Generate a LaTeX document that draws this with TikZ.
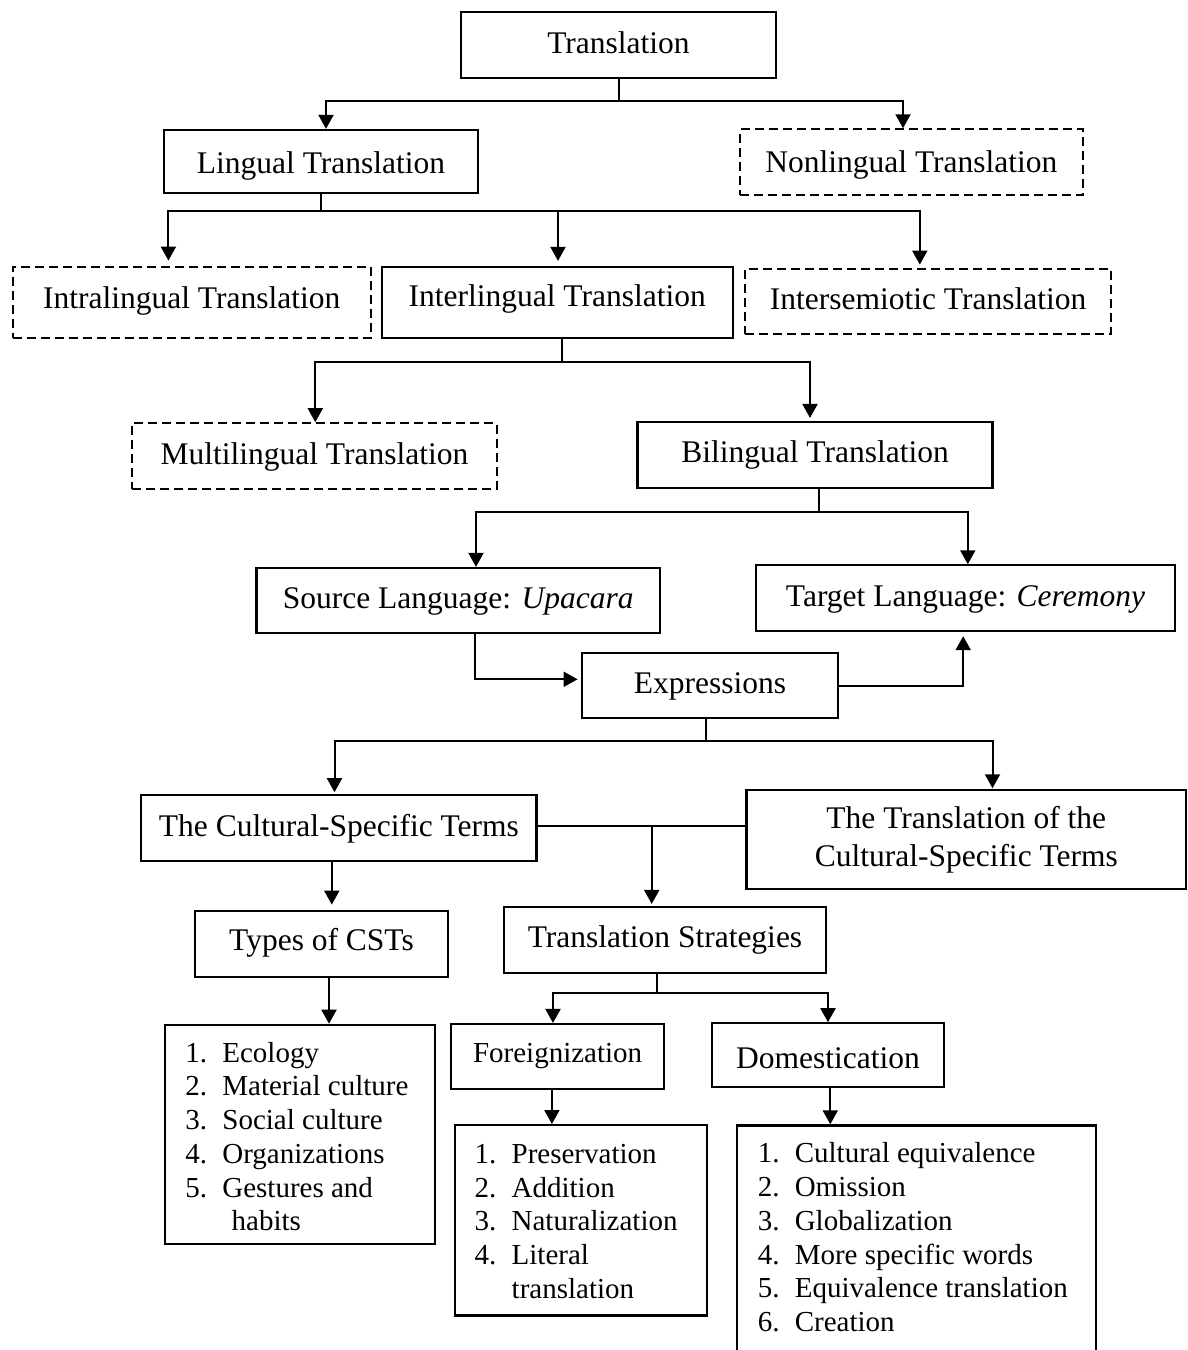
\documentclass[tikz,border=0pt]{standalone}
\usepackage{fontspec}
\setmainfont{Liberation Serif}
\usetikzlibrary{arrows.meta}
\tikzset{
  frame/.style={draw, line width=2.2pt, inner sep=0pt, font=\fontsize{31.5}{37.3}\selectfont},
  box/.style={frame, text height=22pt, text depth=6pt},
  dbox/.style={box, dash pattern=on 9pt off 5pt},
  tb/.style 2 args={text height=#1pt, text depth=#2pt},
  sz/.style 2 args={minimum width=#1pt, minimum height=#2pt},
  conn/.style={line width=2pt},
  arr/.style={conn, -{Triangle[length=14pt,width=15pt]}},
  listbox/.style={draw, line width=2.2pt, anchor=north west, inner sep=0pt},
  listtext/.style={anchor=north west, inner sep=0pt, align=left, font=\fontsize{29}{33.7}\selectfont},
}
\newcommand{\itm}[1]{\makebox[37pt][l]{#1}}
\begin{document}
\begin{tikzpicture}[x=1pt,y=-1pt]
\useasboundingbox (0,0) rectangle (1187,1350);

% boxes
\node[box, sz={315}{65.4}] (tr) at (618.5,45) {Translation};
\node[box, sz={314}{62.7}, tb={26}{2}] (lin) at (321,161.3) {Lingual Translation\hspace{12pt}};
\node[dbox, sz={343}{65.7}, tb={24.5}{3.5}] (non) at (911.4,162.2) {Nonlingual Translation\hspace{6pt}};
\node[dbox, sz={358}{71.6}, tb={19.8}{8.2}] (intra) at (191.7,302.5) {Intralingual Translation};
\node[box, sz={351}{71.6}, tb={18.2}{9.8}] (inter) at (557.2,302.5) {Interlingual Translation\hspace{10pt}};
\node[dbox, sz={366}{65}] (sem) at (928,301.8) {Intersemiotic Translation};
\node[dbox, sz={364.7}{66}] (multi) at (314.4,456.3) {Multilingual Translation};
\node[box, sz={355}{65.7}] (bi) at (815,454.9) {Bilingual Translation};
\node[box, sz={403.6}{65}] (src) at (458.2,600.5) {Source Language: \textit{Upacara}\hspace{10pt}};
\node[box, sz={419.7}{65.7}] (tgt) at (965.5,598.2) {Target Language: \textit{Ceremony}\hspace{14pt}};
\node[box, sz={256.6}{65.6}] (expr) at (710,685.5) {Expressions};
\node[box, sz={395.3}{65.4}] (cst) at (338.9,828) {The Cultural-Specific Terms};
\node[frame, sz={439.5}{98.7}, align=center] (tcst) at (966.3,839.7) {The Translation of the\\Cultural-Specific Terms};
\node[box, sz={252.5}{66}, tb={21}{7}] (types) at (321.5,943.7) {Types of CSTs};
\node[box, sz={322}{66}, tb={21.3}{6.7}] (ts) at (665,940) {Translation Strategies};
\node[box, sz={213.5}{65.3}, tb={20}{8}, font=\fontsize{29}{33.7}\selectfont] (fore) at (557.6,1056.7) {Foreignization};
\node[box, sz={232.2}{64}, tb={27}{1}] (dom) at (828,1055.3) {Domestication};

% list boxes
\node[listbox, sz={269.4}{219.3}] (tlist) at (164.2,1023.7) {};
\node[listtext] (tlistt) at (185.2,1038.4) {\strut\itm{1.}Ecology\\
\itm{2.}Material culture\\
\itm{3.}Social culture\\
\itm{4.}Organizations\\
\itm{5.}Gestures and\\
\hspace*{46.3pt}habits};

\node[listbox, sz={252.3}{190.3}] (flist) at (453.5,1124) {};
\node[listtext] (flistt) at (474.5,1139.7) {\strut\itm{1.}Preservation\\
\itm{2.}Addition\\
\itm{3.}Naturalization\\
\itm{4.}Literal\\
\hspace*{37pt}translation};

\node[listbox, sz={358.4}{240}] (dlist) at (736.2,1124.3) {};
\node[listtext] (dlistt) at (757.6,1139.1) {\strut\itm{1.}Cultural equivalence\\
\itm{2.}Omission\\
\itm{3.}Globalization\\
\itm{4.}More specific words\\
\itm{5.}Equivalence translation\\
\itm{6.}Creation};

% connectors
\draw[arr] (tr.south) -- ++(0,22.3) -| ([xshift=5pt]lin.north);
\draw[arr] (tr.south) -- ++(0,22.3) -| ([xshift=-8.4pt]non.north);

\draw[arr] (lin.south) -- ++(0,17.6) -| ([xshift=-23.3pt,yshift=5pt]intra.north);
\draw[arr] (lin.south) -- ++(0,17.6) -| ([xshift=0.8pt,yshift=4.7pt]inter.north);
\draw[arr] (lin.south) -- ++(0,17.6) -| ([xshift=-8.2pt,yshift=3.6pt]sem.north);

\draw[arr] ([xshift=4.6pt]inter.south) -- ++(0,22.4) -| ([xshift=0.9pt]multi.north);
\draw[arr] ([xshift=4.6pt]inter.south) -- ++(0,22.4) -| ([xshift=-5pt,yshift=3pt]bi.north);

\draw[arr] ([xshift=4pt]bi.south) -- ++(0,23) -| ([xshift=17.8pt]src.north);
\draw[arr] ([xshift=4pt]bi.south) -- ++(0,23) -| ([xshift=2.3pt]tgt.north);

\draw[arr] ([xshift=16.3pt]src.south) |- ([xshift=-3pt,yshift=6.2pt]expr.west);
\draw[arr] (expr.east) -| ([xshift=-2.3pt,yshift=-4pt]tgt.south);

\draw[arr] ([xshift=-4pt]expr.south) -- ++(0,22) -| ([xshift=-4.4pt,yshift=2pt]cst.north);
\draw[arr] ([xshift=-4pt]expr.south) -- ++(0,22) -| ([xshift=26.2pt,yshift=1pt]tcst.north);

\coordinate (cx) at ([yshift=1.7pt]cst.east);
\draw[conn] (cx) -- (cx -| tcst.west);
\coordinate (tsin) at ([xshift=-13.3pt,yshift=2pt]ts.north);
\draw[arr] (tsin |- cx) -- (tsin);

\coordinate (tyin) at ([xshift=10.3pt,yshift=5pt]types.north);
\draw[arr] (tyin |- cst.south) -- (tyin);
\coordinate (tlin) at ([xshift=7.5pt]types.south);
\draw[arr] (tlin) -- (tlin |- tlist.north);

\draw[arr] ([xshift=-8.4pt]ts.south) -- ++(0,19.3) -| ([xshift=-4.6pt]fore.north);
\draw[arr] ([xshift=-8.4pt]ts.south) -- ++(0,19.3) -| (dom.north);

\coordinate (fin) at ([xshift=-5.7pt]fore.south);
\draw[arr] (fin) -- (fin |- flist.north);
\coordinate (din) at ([xshift=2.3pt]dom.south);
\draw[arr] (din) -- (din |- dlist.north);
\end{tikzpicture}
\end{document}
